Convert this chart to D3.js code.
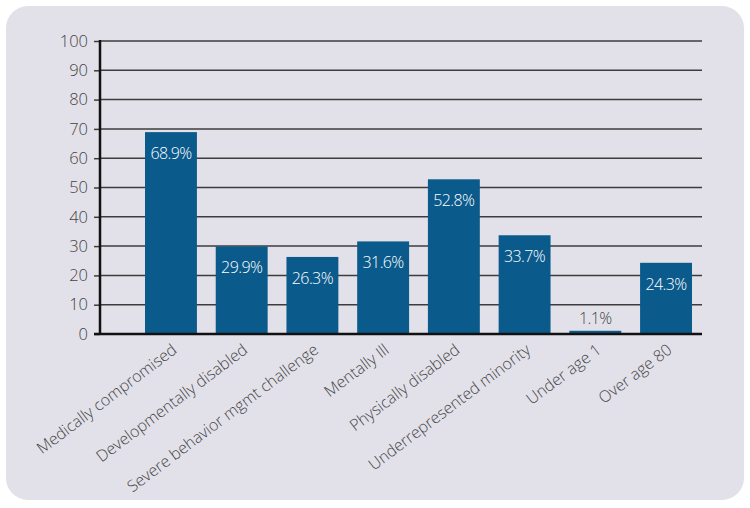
<!DOCTYPE html>
<html><head><meta charset="utf-8">
<script src="https://cdn.jsdelivr.net/npm/d3@7"></script>
<style>body{margin:0;background:#fff;}svg{display:block;font-family:"Open Sans",sans-serif;}</style>
</head><body><svg id="c" width="750" height="508"></svg>
<script>
const categories = ["Medically compromised","Developmentally disabled","Severe behavior mgmt challenge","Mentally Ill","Physically disabled","Underrepresented minority","Under age 1","Over age 80"];
const values = [68.9,29.9,26.3,31.6,52.8,33.7,1.1,24.3];
const yTicks = [0,10,20,30,40,50,60,70,80,90,100];

const svg = d3.select("#c");
svg.append("rect").attr("x",6).attr("y",6).attr("width",738).attr("height",494).attr("rx",22).attr("fill","#e2e1ea");

const y = d3.scaleLinear().domain([0,100]).range([334,41]);
const x = d3.scaleBand().domain(categories).range([135.6,701.4]).paddingInner(0.266).paddingOuter(0.133);
const axL = 100, axR = 702;

// gridlines
svg.append("g").selectAll("line").data(yTicks.filter(d=>d>0)).join("line")
  .attr("x1",axL).attr("x2",axR).attr("y1",d=>y(d)).attr("y2",d=>y(d))
  .attr("stroke","#3d3d3d").attr("stroke-width",1.5);

// y axis
const ya = svg.append("g").attr("transform",`translate(${axL},0)`)
  .call(d3.axisLeft(y).tickValues(yTicks).tickSize(6).tickPadding(6));
ya.select(".domain").remove();
ya.selectAll(".tick line").attr("stroke","#3d3d3d").attr("stroke-width",1.5);
ya.selectAll(".tick text").attr("font-size",16.5).attr("fill","#444").attr("font-family","Open Sans, sans-serif").attr("font-weight",300);

// bars
svg.append("g").selectAll("rect").data(values).join("rect")
  .attr("x",(d,i)=>x(categories[i])).attr("width",x.bandwidth())
  .attr("y",d=>y(d)).attr("height",d=>y(0)-y(d)).attr("fill","#0b5a8c");

// value labels
svg.append("g").selectAll("text").data(values).join("text")
  .attr("x",(d,i)=>x(categories[i])+x.bandwidth()/2)
  .attr("y",d=> (y(0)-y(d) > 30) ? y(d)+27 : y(d)-7)
  .attr("text-anchor","middle").attr("font-size",16).attr("font-weight",300)
  .attr("fill",d=> (y(0)-y(d) > 30) ? "#ffffff" : "#444")
  .attr("letter-spacing","-0.6")
  .text(d=>d.toFixed(1)+"%");

// axis lines
svg.append("line").attr("x1",axL).attr("x2",axL).attr("y1",y(100)-1).attr("y2",y(0)+1).attr("stroke","#111").attr("stroke-width",2.5);
svg.append("line").attr("x1",axL-6).attr("x2",axR).attr("y1",y(0)).attr("y2",y(0)).attr("stroke","#111").attr("stroke-width",2.5);

// category labels
svg.append("g").selectAll("text").data(categories).join("text")
  .attr("transform",d=>`translate(${x(d)+x.bandwidth()/2+7},${352}) rotate(-37)`)
  .attr("text-anchor","end").attr("font-size",16).attr("font-weight",300).attr("fill","#444")
  .text(d=>d);
</script></body></html>
